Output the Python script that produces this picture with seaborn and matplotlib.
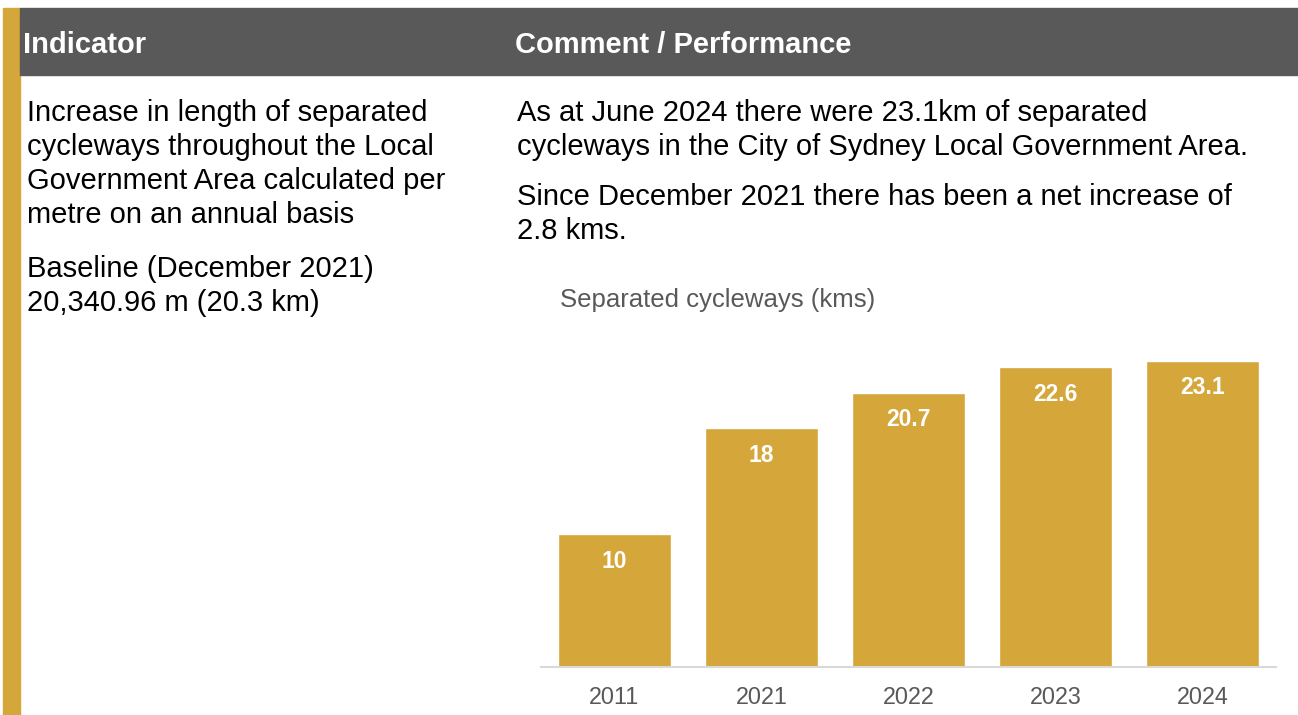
import matplotlib
matplotlib.use("Agg")
import matplotlib.pyplot as plt
import seaborn as sns
import pandas as pd
from matplotlib.patches import Rectangle

# --- data ---
years = ["2011", "2021", "2022", "2023", "2024"]
kms = [10, 18, 20.7, 22.6, 23.1]
labels = ["10", "18", "20.7", "22.6", "23.1"]

header_left = "Indicator"
header_right = "Comment / Performance"
left_lines = ["Increase in length of separated",
              "cycleways throughout the Local",
              "Government Area calculated per",
              "metre on an annual basis"]
baseline_lines = ["Baseline (December 2021)",
                  "20,340.96 m (20.3 km)"]
right_para1 = ["As at June 2024 there were 23.1km of separated",
               "cycleways in the City of Sydney Local Government Area."]
right_para2 = ["Since December 2021 there has been a net increase of",
               "2.8 kms."]
chart_title = "Separated cycleways (kms)"

GOLD = "#D5A639"
DARK = "#595959"

sns.set_theme(style="white")
plt.rcParams['font.family'] = ['Liberation Sans', 'DejaVu Sans']

W, H = 1298, 715
fig = plt.figure(figsize=(W / 100, H / 100), dpi=100, facecolor="white")


def fx(px):
    return px / W


def fy(py):
    return 1 - py / H


# gold side strip and grey header band
fig.patches.append(Rectangle((fx(3), fy(715)), fx(17), (715 - 8) / H,
                             transform=fig.transFigure, color=GOLD, zorder=0))
fig.patches.append(Rectangle((fx(20), fy(75)), fx(1278), 67 / H,
                             transform=fig.transFigure, color=DARK, zorder=0))

fig.text(fx(23), fy(45), header_left, color="white", fontsize=21,
         fontweight="bold", va="center", ha="left")
fig.text(fx(515), fy(45), header_right, color="white", fontsize=21,
         fontweight="bold", va="center", ha="left")

for i, line in enumerate(left_lines):
    fig.text(fx(27), fy(113 + 34 * i), line, fontsize=21, color="black",
             va="center", ha="left")
for i, line in enumerate(baseline_lines):
    fig.text(fx(27), fy(269 + 34 * i), line, fontsize=21, color="black",
             va="center", ha="left")
for i, line in enumerate(right_para1):
    fig.text(fx(517), fy(113 + 34 * i), line, fontsize=21, color="black",
             va="center", ha="left")
for i, line in enumerate(right_para2):
    fig.text(fx(517), fy(197 + 34 * i), line, fontsize=21, color="black",
             va="center", ha="left")

fig.text(fx(560), fy(300), chart_title, fontsize=18.5, color=DARK,
         va="center", ha="left")

# --- bar chart ---
ax = fig.add_axes([fx(541), fy(667), fx(735), 330 / H])
df = pd.DataFrame({"year": years, "kms": kms})
sns.barplot(data=df, x="year", y="kms", color=GOLD, saturation=1,
            width=0.77, ax=ax)
ax.set_xlim(-0.5, len(years) - 0.5)
ax.set_ylim(0, 24.9)
ax.set_xlabel("")
ax.set_ylabel("")
ax.set_yticks([])
for s in ["top", "right", "left"]:
    ax.spines[s].set_visible(False)
ax.spines["bottom"].set_color("#D9D9D9")
ax.spines["bottom"].set_linewidth(1.5)
ax.tick_params(axis="x", length=0, pad=13.5, labelsize=16.8, labelcolor=DARK)
ax.patch.set_alpha(0)

for i, (v, lab) in enumerate(zip(kms, labels)):
    ax.annotate(lab, xy=(i, v), xytext=(0, -19.5), textcoords="offset points",
                ha="center", va="center", color="white", fontsize=16.5,
                fontweight="bold")

fig.savefig("out.png", dpi=100, facecolor="white")
plt.close(fig)
